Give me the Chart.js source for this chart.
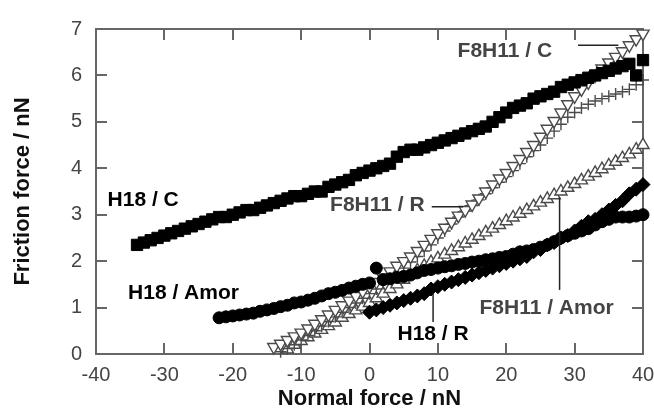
<!DOCTYPE html>
<html>
<head>
  <title>Friction force vs normal force</title>
  <script src="https://cdn.jsdelivr.net/npm/chart.js"></script>
  <style>
    body {
      margin: 0;
      background-color: #fff;
    }
    canvas {
      display: block;
    }
  </style>
</head>
<body>
  <canvas id="frictionChart" width="654" height="410"></canvas>

  <script>
    // [normal force, friction force] in nN
    const h18C = [
      [-34, 2.35], [-33, 2.4], [-32, 2.45], [-31, 2.5], [-30, 2.55], [-29, 2.6], [-28, 2.65], [-27, 2.7],
      [-26, 2.75], [-25, 2.8], [-24, 2.85], [-23, 2.9], [-22, 2.95], [-21, 2.95], [-20, 3.0], [-19, 3.05],
      [-18, 3.1], [-17, 3.1], [-16, 3.15], [-15, 3.2], [-14, 3.25], [-13, 3.3], [-12, 3.35], [-11, 3.4],
      [-10, 3.4], [-9, 3.45], [-8, 3.5], [-7, 3.5], [-6, 3.6], [-5, 3.65], [-4, 3.7], [-3, 3.75],
      [-2, 3.85], [-1, 3.9], [0, 3.95], [1, 4.0], [2, 4.05], [3, 4.1], [4, 4.25], [5, 4.35],
      [6, 4.4], [7, 4.4], [8, 4.45], [9, 4.5], [10, 4.55], [11, 4.6], [12, 4.65], [13, 4.7],
      [14, 4.75], [15, 4.8], [16, 4.85], [17, 4.9], [18, 5.0], [19, 5.1], [20, 5.2], [21, 5.3],
      [22, 5.35], [23, 5.4], [24, 5.5], [25, 5.55], [26, 5.6], [27, 5.65], [28, 5.75], [29, 5.8],
      [30, 5.85], [31, 5.9], [32, 5.95], [33, 6.0], [34, 6.05], [35, 6.1], [36, 6.15], [37, 6.2],
      [38, 6.25], [39, 6.0], [40, 6.33]
    ];
    const h18Amor = [
      [-22, 0.78], [-21, 0.8], [-20, 0.82], [-19, 0.84], [-18, 0.86], [-17, 0.88], [-16, 0.92], [-15, 0.95],
      [-14, 0.98], [-13, 1.02], [-12, 1.05], [-11, 1.1], [-10, 1.12], [-9, 1.16], [-8, 1.2], [-7, 1.25],
      [-6, 1.3], [-5, 1.33], [-4, 1.37], [-3, 1.42], [-2, 1.46], [-1, 1.5], [0, 1.53], [1, 1.85],
      [2, 1.6], [3, 1.62], [4, 1.65], [5, 1.67], [6, 1.7], [7, 1.75], [8, 1.8], [9, 1.82],
      [10, 1.85], [11, 1.88], [12, 1.9], [13, 1.93], [14, 1.95], [15, 1.98], [16, 2.0], [17, 2.03],
      [18, 2.05], [19, 2.08], [20, 2.1], [21, 2.15], [22, 2.2], [23, 2.22], [24, 2.25], [25, 2.3],
      [26, 2.35], [27, 2.42], [28, 2.5], [29, 2.55], [30, 2.6], [31, 2.65], [32, 2.7], [33, 2.78],
      [34, 2.85], [35, 2.9], [36, 2.95], [37, 2.95], [38, 2.95], [39, 2.97], [40, 3.0]
    ];
    const h18R = [
      [0, 0.9], [1, 0.95], [2, 1.0], [3, 1.05], [4, 1.1], [5, 1.15], [6, 1.2], [7, 1.25],
      [8, 1.3], [9, 1.4], [10, 1.45], [11, 1.5], [12, 1.55], [13, 1.6], [14, 1.65], [15, 1.7],
      [16, 1.75], [17, 1.8], [18, 1.85], [19, 1.9], [20, 1.95], [21, 2.0], [22, 2.05], [23, 2.1],
      [24, 2.2], [25, 2.25], [26, 2.35], [27, 2.4], [28, 2.5], [29, 2.55], [30, 2.65], [31, 2.75],
      [32, 2.85], [33, 2.9], [34, 3.0], [35, 3.1], [36, 3.2], [37, 3.3], [38, 3.45], [39, 3.55],
      [40, 3.65]
    ];
    const f8h11C = [
      [-14, 0.15], [-13, 0.22], [-12, 0.3], [-11, 0.38], [-10, 0.46], [-9, 0.55], [-8, 0.65], [-7, 0.75],
      [-6, 0.85], [-5, 0.95], [-4, 1.05], [-3, 1.15], [-2, 1.25], [-1, 1.35], [0, 1.45], [1, 1.55],
      [2, 1.65], [3, 1.78], [4, 1.9], [5, 2.0], [6, 2.1], [7, 2.22], [8, 2.35], [9, 2.48],
      [10, 2.6], [11, 2.72], [12, 2.85], [13, 2.98], [14, 3.1], [15, 3.22], [16, 3.35], [17, 3.5],
      [18, 3.65], [19, 3.78], [20, 3.9], [21, 4.05], [22, 4.2], [23, 4.35], [24, 4.5], [25, 4.68],
      [26, 4.85], [27, 5.02], [28, 5.2], [29, 5.38], [30, 5.55], [31, 5.7], [32, 5.85], [33, 6.0],
      [34, 6.15], [35, 6.28], [36, 6.4], [37, 6.52], [38, 6.65], [39, 6.78], [40, 6.9]
    ];
    const f8h11R = [
      [-13, 0.05], [-12, 0.12], [-11, 0.2], [-10, 0.3], [-9, 0.4], [-8, 0.5], [-7, 0.6], [-6, 0.7],
      [-5, 0.8], [-4, 0.9], [-3, 1.0], [-2, 1.1], [-1, 1.2], [0, 1.3], [1, 1.4], [2, 1.52],
      [3, 1.65], [4, 1.75], [5, 1.85], [6, 1.98], [7, 2.1], [8, 2.22], [9, 2.35], [10, 2.5],
      [11, 2.65], [12, 2.8], [13, 2.95], [14, 3.08], [15, 3.2], [16, 3.32], [17, 3.45], [18, 3.58],
      [19, 3.7], [20, 3.82], [21, 3.95], [22, 4.1], [23, 4.25], [24, 4.38], [25, 4.5], [26, 4.65],
      [27, 4.8], [28, 4.95], [29, 5.1], [30, 5.2], [31, 5.3], [32, 5.38], [33, 5.45], [34, 5.5],
      [35, 5.55], [36, 5.6], [37, 5.65], [38, 5.7], [39, 5.8], [40, 5.9]
    ];
    const f8h11Amor = [
      [-12, 0.1], [-11, 0.2], [-10, 0.28], [-9, 0.36], [-8, 0.44], [-7, 0.52], [-6, 0.6], [-5, 0.68],
      [-4, 0.78], [-3, 0.86], [-2, 0.94], [-1, 1.02], [0, 1.1], [1, 1.2], [2, 1.3], [3, 1.4],
      [4, 1.5], [5, 1.6], [6, 1.7], [7, 1.8], [8, 1.9], [9, 1.98], [10, 2.06], [11, 2.14],
      [12, 2.22], [13, 2.3], [14, 2.38], [15, 2.46], [16, 2.54], [17, 2.62], [18, 2.7], [19, 2.78],
      [20, 2.86], [21, 2.94], [22, 3.02], [23, 3.1], [24, 3.18], [25, 3.26], [26, 3.34], [27, 3.42],
      [28, 3.5], [29, 3.58], [30, 3.66], [31, 3.74], [32, 3.82], [33, 3.9], [34, 3.98], [35, 4.06],
      [36, 4.14], [37, 4.22], [38, 4.3], [39, 4.4], [40, 4.5]
    ];

    const xTicks = [-40, -30, -20, -10, 0, 10, 20, 30, 40];
    const yTicks = [0, 1, 2, 3, 4, 5, 6, 7];

    // in-plot labels, placed in data coordinates
    const seriesLabels = [
      { text: 'H18 / C', x: -33.1, y: 3.32, color: '#000' },
      { text: 'H18 / Amor', x: -27.2, y: 1.30, color: '#000' },
      { text: 'H18 / R', x: 9.3, y: 0.42, color: '#000' },
      { text: 'F8H11 / C', x: 19.8, y: 6.52, color: '#444' },
      { text: 'F8H11 / R', x: 1.15, y: 3.2, color: '#444' },
      { text: 'F8H11 / Amor', x: 25.9, y: 0.98, color: '#444' }
    ];
    const pointerLines = [
      [[30.5, 6.65], [36.4, 6.65]],
      [[9.1, 3.17], [13.7, 3.17]],
      [[27.8, 3.38], [27.8, 1.38]],
      [[9.3, 1.31], [9.3, 0.69]]
    ];

    const FONT = "'Liberation Sans', Arial, Helvetica, sans-serif";
    const AXIS_GRAY = '#666';
    const toPts = arr => arr.map(p => ({ x: p[0], y: p[1] }));

    const framePlugin = {
      id: 'frame',
      beforeDatasetsDraw(chart) {
        const ctx = chart.ctx;
        const area = chart.chartArea;
        ctx.save();
        ctx.strokeStyle = AXIS_GRAY;
        ctx.lineWidth = 2;
        ctx.strokeRect(area.left, area.top, area.right - area.left, area.bottom - area.top);
        ctx.restore();
      },
      afterDatasetsDraw(chart) {
        const ctx = chart.ctx;
        const sx = chart.scales.x;
        const sy = chart.scales.y;
        ctx.save();
        ctx.strokeStyle = '#222';
        ctx.lineWidth = 1.5;
        pointerLines.forEach(l => {
          ctx.beginPath();
          ctx.moveTo(sx.getPixelForValue(l[0][0]), sy.getPixelForValue(l[0][1]));
          ctx.lineTo(sx.getPixelForValue(l[1][0]), sy.getPixelForValue(l[1][1]));
          ctx.stroke();
        });
        ctx.font = 'bold 21px ' + FONT;
        ctx.textAlign = 'center';
        ctx.textBaseline = 'middle';
        seriesLabels.forEach(l => {
          ctx.fillStyle = l.color;
          ctx.fillText(l.text, sx.getPixelForValue(l.x), sy.getPixelForValue(l.y));
        });
        ctx.restore();
      }
    };

    function blackSet(label, data, style, radius) {
      return {
        label: label, data: toPts(data), pointStyle: style, pointRadius: radius,
        backgroundColor: '#000', borderColor: '#000', borderWidth: 1, clip: false
      };
    }
    function graySet(label, data, style, radius, rotation) {
      return {
        label: label, data: toPts(data), pointStyle: style, pointRadius: radius,
        rotation: rotation || 0, backgroundColor: '#fff', borderColor: '#4a4a4a',
        borderWidth: 1.4, clip: false
      };
    }

    // negative tick length puts the tick marks inside the plot box
    const inwardGrid = {
      display: true, drawOnChartArea: false, drawTicks: true,
      tickLength: -11, color: AXIS_GRAY, lineWidth: 2
    };
    const tickFont = { family: FONT, size: 20 };
    const titleFont = { family: FONT, size: 22, weight: 'bold', lineHeight: 1 };

    // fixed box sizes; the label overhang padding is dropped so the plot box stays put
    function fitX(height) {
      return s => { s.height = height; s.paddingLeft = 0; s.paddingRight = 0; };
    }
    function fitY(width) {
      return s => { s.width = width; s.paddingTop = 0; s.paddingBottom = 0; };
    }

    new Chart(document.getElementById('frictionChart'), {
      type: 'scatter',
      data: {
        datasets: [
          blackSet('H18 / C', h18C, 'rect', 8),
          blackSet('H18 / Amor', h18Amor, 'circle', 6),
          blackSet('H18 / R', h18R, 'rectRot', 7),
          graySet('F8H11 / C', f8h11C, 'triangle', 7, 180),
          graySet('F8H11 / R', f8h11R, 'cross', 6),
          graySet('F8H11 / Amor', f8h11Amor, 'triangle', 7)
        ]
      },
      options: {
        responsive: false,
        animation: false,
        layout: { padding: { top: 29, right: 11, left: 0, bottom: 0 } },
        plugins: {
          legend: { display: false },
          tooltip: { enabled: false }
        },
        scales: {
          x: {
            type: 'linear', position: 'bottom', min: -40, max: 40,
            afterBuildTicks: s => { s.ticks = xTicks.map(v => ({ value: v })); },
            afterFit: fitX(56),
            grid: inwardGrid,
            border: { display: false },
            ticks: { padding: 20, color: '#444', font: tickFont },
            title: {
              display: true, text: 'Normal force / nN', color: '#111',
              font: titleFont, padding: { top: 0, bottom: 0 }
            }
          },
          xTop: {
            type: 'linear', position: 'top', min: -40, max: 40,
            afterBuildTicks: s => { s.ticks = xTicks.map(v => ({ value: v })); },
            afterFit: fitX(0),
            grid: inwardGrid,
            border: { display: false },
            ticks: { display: false }
          },
          y: {
            type: 'linear', position: 'left', min: 0, max: 7,
            afterBuildTicks: s => { s.ticks = yTicks.map(v => ({ value: v })); },
            afterFit: fitY(96),
            grid: inwardGrid,
            border: { display: false },
            ticks: { padding: 25, color: '#444', font: tickFont },
            title: {
              display: true, text: 'Friction force / nN', color: '#111',
              font: titleFont, padding: { top: 12, bottom: 0 }
            }
          },
          yRight: {
            type: 'linear', position: 'right', min: 0, max: 7,
            afterBuildTicks: s => { s.ticks = yTicks.map(v => ({ value: v })); },
            afterFit: fitY(0),
            grid: inwardGrid,
            border: { display: false },
            ticks: { display: false }
          }
        }
      },
      plugins: [framePlugin]
    });
  </script>
</body>
</html>
